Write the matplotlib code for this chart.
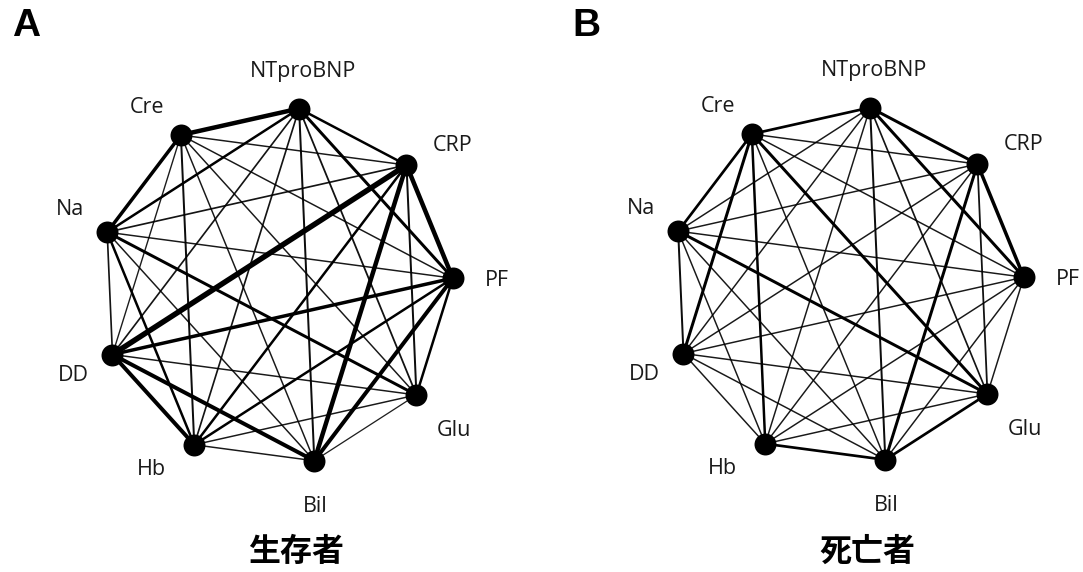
import numpy as np
import matplotlib
matplotlib.use("Agg")
import matplotlib.pyplot as plt

nodes = ["NTproBNP", "CRP", "PF", "Glu", "Bil", "Hb", "DD", "Na", "Cre"]

# edge strengths (approx. drawn line width in px) for pairs (i<j) in order
survivor_w = [2.0, 2.5, 1.3, 1.5, 1.2, 1.2, 2.0, 4.0,
              4.0, 1.5, 4.0, 2.0, 5.0, 1.2, 1.0,
              2.0, 3.5, 2.0, 3.0, 1.0, 1.0,
              0.8, 1.0, 1.0, 2.5, 1.0,
              1.0, 3.5, 1.0, 1.0,
              3.5, 2.0, 1.5,
              1.2, 0.9,
              3.0]
death_w = [2.5, 2.5, 1.2, 1.5, 1.0, 1.0, 1.0, 2.2,
           3.0, 1.3, 2.5, 1.0, 1.0, 1.0, 1.0,
           1.0, 1.0, 1.0, 1.0, 1.0, 1.0,
           2.2, 1.0, 1.0, 2.5, 2.5,
           2.2, 1.0, 1.0, 1.0,
           1.0, 1.0, 2.0,
           1.5, 2.5,
           2.2]

panel_letters = ["A", "B"]
panel_titles = ["生存者", "死亡者"]

W, H = 1083, 572
fig = plt.figure(figsize=(W / 100, H / 100), dpi=100)
ax = fig.add_axes([0, 0, 1, 1])
ax.set_xlim(0, W)
ax.set_ylim(H, 0)
ax.axis("off")

pairs = [(i, j) for i in range(len(nodes)) for j in range(i + 1, len(nodes))]
n = len(nodes)
angles = np.deg2rad(82.5 - 360.0 / n * np.arange(n))
# small angular nudges (deg) and radii for label placement
label_nudge = np.deg2rad([0.3, -4.0, -1.2, -1.7, -2.5, -6.7, 1.4, -2.8, 3.4])
label_r = [216, 225, 221, 229, 224, 222, 222, 220, 220]

def draw_panel(cx, cy, weights, title):
    rx, ry = 177, 179
    xs = cx + rx * np.cos(angles)
    ys = cy - ry * np.sin(angles)
    order = np.argsort(weights)
    for k in order:
        i, j = pairs[k]
        w = weights[k]
        ax.plot([xs[i], xs[j]], [ys[i], ys[j]], color="black",
                lw=0.35 + w * 0.72, solid_capstyle="round", zorder=1 + w * 0.01,
                alpha=min(1.0, 0.8 + 0.2 * w / 2))
    ax.scatter(xs, ys, s=250, color="black", zorder=5, linewidths=0)
    for k, name in enumerate(nodes):
        a = angles[k] + label_nudge[k]
        lx = cx + label_r[k] * np.cos(a)
        ly = cy - label_r[k] * np.sin(a)
        ax.text(lx, ly, name, ha="center", va="center", fontsize=15.5,
                family=["Open Sans", "DejaVu Sans"], color="#1a1a1a")
    ax.text(cx + 20, 552, title, ha="center", va="center", fontsize=23,
            fontweight="bold", family=["Noto Sans CJK JP", "DejaVu Sans"])

draw_panel(276, 286, survivor_w, panel_titles[0])
draw_panel(847, 285, death_w, panel_titles[1])

ax.text(26, 26, panel_letters[0], ha="center", va="center", fontsize=28,
        fontweight="bold", family=["Liberation Sans", "DejaVu Sans"])
ax.text(586, 26, panel_letters[1], ha="center", va="center", fontsize=28,
        fontweight="bold", family=["Liberation Sans", "DejaVu Sans"])

fig.savefig("out.png", dpi=100, facecolor="white")
